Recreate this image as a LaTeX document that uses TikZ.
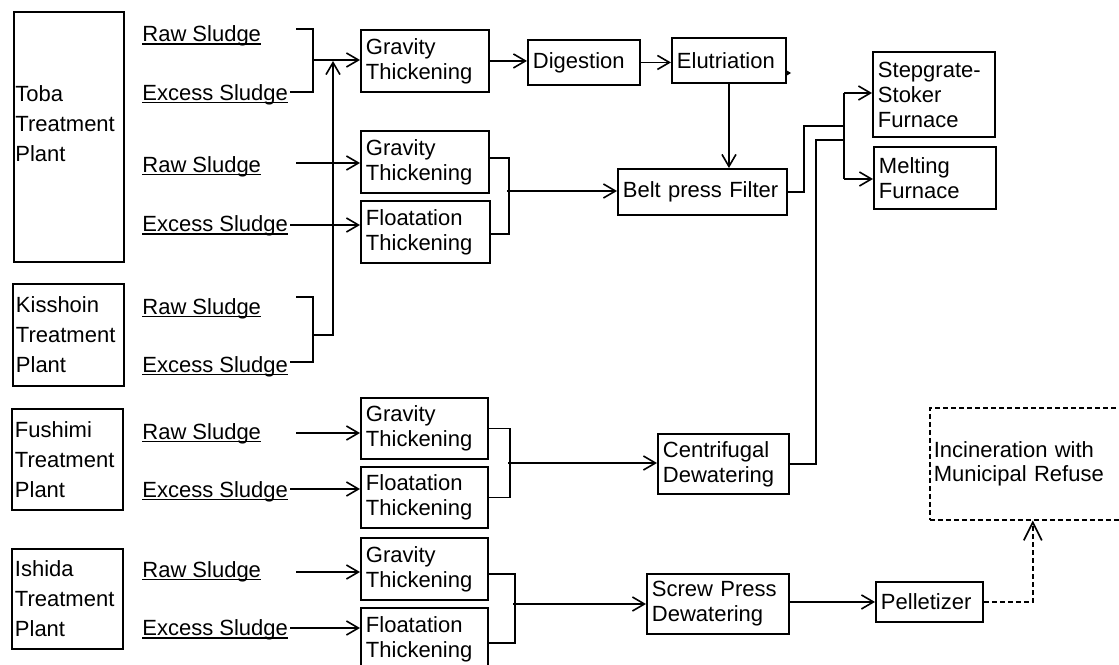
\documentclass[tikz,border=0pt]{standalone}
\usepackage{fontspec}
\setmainfont{Liberation Sans}
\usetikzlibrary{arrows.meta}
\newcommand\myul[1]{\setbox0\hbox{#1}\rlap{\rule[-1.6pt]{\wd0}{0.8pt}}\box0}
\tikzset{
  pbox/.style={draw, line width=0.95pt, anchor=north west, inner xsep=2.5pt, inner ysep=0pt, align=left, font=\fontsize{11}{12.5}\selectfont},
  plbox/.style={draw, line width=0.95pt, anchor=north west, inner xsep=1.5pt, inner ysep=0pt, align=left, font=\fontsize{11}{15}\selectfont},
  slabel/.style={anchor=base west, inner sep=0pt, font=\fontsize{11}{13}\selectfont},
  conn/.style={line width=0.8pt},
  arr/.style={conn, -{Straight Barb[length=6pt,width=7pt]}},
  dsh/.style={line width=0.8pt, dash pattern=on 2.5pt off 1.5pt},
}
\begin{document}
\begin{tikzpicture}[x=0.5pt,y=-0.5pt]
\useasboundingbox (0,0) rectangle (1119,664);
\clip (0,0) rectangle (1119,664);

% plants
\node[plbox, minimum width=55pt, minimum height=125pt] (toba) at (13,11) {};
\node[anchor=west, inner sep=0pt, align=left, font=\fontsize{11}{15}\selectfont] (tobat) at (15,124) {Toba\\Treatment\\Plant};
\node[plbox, minimum width=55.5pt, minimum height=51pt, text width=52.5pt] (kiss) at (12,283) {Kisshoin\\Treatment\\Plant};
\node[plbox, minimum width=55.5pt, minimum height=50.5pt, text width=52.5pt] (fush) at (11,408) {Fushimi\\Treatment\\Plant};
\node[plbox, minimum width=55.5pt, minimum height=50pt, text width=52.5pt] (ishi) at (11,548) {Ishida\\Treatment\\Plant};

% sludge labels
\node[slabel] (raw1) at (142,41.5) {\myul{Raw Sludge}};
\node[slabel] (exc1) at (142,100) {\myul{Excess Sludge}};
\node[slabel] (raw2) at (142,172) {\myul{Raw Sludge}};
\node[slabel] (exc2) at (142,231.5) {\myul{Excess Sludge}};
\node[slabel] (raw3) at (142,314) {\myul{Raw Sludge}};
\node[slabel] (exc3) at (142,372) {\myul{Excess Sludge}};
\node[slabel] (raw4) at (142,439) {\myul{Raw Sludge}};
\node[slabel] (exc4) at (142,497) {\myul{Excess Sludge}};
\node[slabel] (raw5) at (142,577) {\myul{Raw Sludge}};
\node[slabel] (exc5) at (142,635.5) {\myul{Excess Sludge}};

% process boxes
\node[pbox, minimum width=64pt, minimum height=31pt, text width=59pt] (gt1) at (360,29) {Gravity\\Thickening};
\node[pbox, minimum width=56pt, minimum height=22.5pt, text width=51pt] (dig) at (527,39) {Digestion};
\node[pbox, minimum width=57pt, minimum height=22.5pt, text width=52pt] (elu) at (671,37) {Elutriation};
\node[pbox, minimum width=64pt, minimum height=31pt, text width=59pt] (gt2) at (360,130) {Gravity\\Thickening};
\node[pbox, minimum width=64.5pt, minimum height=31pt, text width=59.5pt] (ft1) at (360,200) {Floatation\\Thickening};
\node[pbox, minimum width=84.5pt, minimum height=23pt, text width=79.5pt] (belt) at (617,168) {Belt press Filter};
\node[pbox, minimum width=61pt, minimum height=42.5pt, text width=56pt] (stoker) at (872,51) {Stepgrate-\\Stoker\\Furnace};
\node[pbox, minimum width=61pt, minimum height=31pt, text width=56pt] (melt) at (873,146) {Melting\\Furnace};
\node[pbox, minimum width=63.5pt, minimum height=30.5pt, text width=58.5pt] (gt3) at (360,397) {Gravity\\Thickening};
\node[pbox, minimum width=63.5pt, minimum height=30.5pt, text width=58.5pt] (ft3) at (360,466) {Floatation\\Thickening};
\node[pbox, minimum width=65.5pt, minimum height=30pt, text width=60.5pt] (cent) at (657,433) {Centrifugal\\Dewatering};
\node[pbox, minimum width=63.5pt, minimum height=31pt, text width=58.5pt] (gt4) at (360,537) {Gravity\\Thickening};
\node[pbox, minimum width=63.5pt, minimum height=31pt, text width=58.5pt] (ft4) at (360,607) {Floatation\\Thickening};
\node[pbox, minimum width=71pt, minimum height=30pt, text width=66pt] (screw) at (646,573) {Screw Press\\Dewatering};
\node[pbox, minimum width=53.5pt, minimum height=20pt, text width=48.5pt] (pell) at (875,581) {Pelletizer};
\node[pbox, dsh, inner xsep=2pt, minimum width=96.5pt, minimum height=56pt, text width=92.5pt, font=\fontsize{11}{12}\selectfont] (inc) at (929,407) {Incineration with\\Municipal Refuse};

% free ends
\coordinate (r1s) at (296,29);  \coordinate (e1s) at (290,92);  \coordinate (j1) at (313,60);
\coordinate (r3s) at (296,297); \coordinate (e3s) at (290,362); \coordinate (j3) at (313,335);
\coordinate (r2s) at (296,163); \coordinate (e2s) at (290,225);
\coordinate (r4s) at (296,433); \coordinate (e4s) at (290,489);
\coordinate (r5s) at (296,572); \coordinate (e5s) at (290,628);
\coordinate (m2) at (507,191);  \coordinate (m3) at (508,463);  \coordinate (m4) at (513,604);
\coordinate (jf1) at (844,93);  \coordinate (jf2) at (844,179);

% Toba / Kisshoin to gravity thickening
\draw[conn] (r1s) -- (313,29) -- (313,92) -- (e1s);
\draw[arr] (j1) -- (j1 -| gt1.west);
\draw[conn] (r3s) -- (313,297) -- (313,362) -- (e3s);
\draw[arr] (j3) -- (333,335) -- (333,61);
\draw[arr] (r2s) -- (r2s -| gt2.west);
\draw[arr] (e2s) -- (e2s -| ft1.west);

% digestion chain
\draw[arr] (gt1.east) -- (gt1.east -| dig.west);
\draw[arr] (dig.east) -- (dig.east -| elu.west);
\draw[arr] (elu.south) -- (elu.south |- belt.north);
\fill (786,70) -- (791,73) -- (786,76) -- cycle;

% Toba thickening to belt press
\draw[conn] ([yshift=2pt]gt2.east) -- ++(9.5pt,0) |- ([yshift=-1pt]ft1.east);
\draw[arr] (m2) -- (m2 -| belt.west);

% to furnaces
\draw[conn] (belt.east) -| (804,126) -- (844,126);
\draw[conn] (cent.east) -| (816,140) -- (844,140);
\draw[conn] (jf1) -- (jf2);
\draw[arr] (jf1) -- (jf1 -| stoker.west);
\draw[arr] (jf2) -- (jf2 -| melt.west);

% Fushimi
\draw[arr] (r4s) -- (r4s -| gt3.west);
\draw[arr] (e4s) -- (e4s -| ft3.west);
\draw[conn] (gt3.east) -- ++(10.5pt,0) |- (ft3.east);
\draw[arr] (m3) -- (m3 -| cent.west);

% Ishida
\draw[arr] (r5s) -- (r5s -| gt4.west);
\draw[arr] (e5s) -- (e5s -| ft4.west);
\draw[conn] ([yshift=-2.5pt]gt4.east) -- ++(13pt,0) |- ([yshift=-2pt]ft4.east);
\draw[arr] (m4) -- (m4 -| screw.west);
\draw[arr] (pell.west -| screw.east) -- (pell.west);
\draw[dsh, -{Straight Barb[length=9pt,width=9pt]}] (pell.east) -| ([xshift=3.25pt]inc.south);
\end{tikzpicture}
\end{document}
